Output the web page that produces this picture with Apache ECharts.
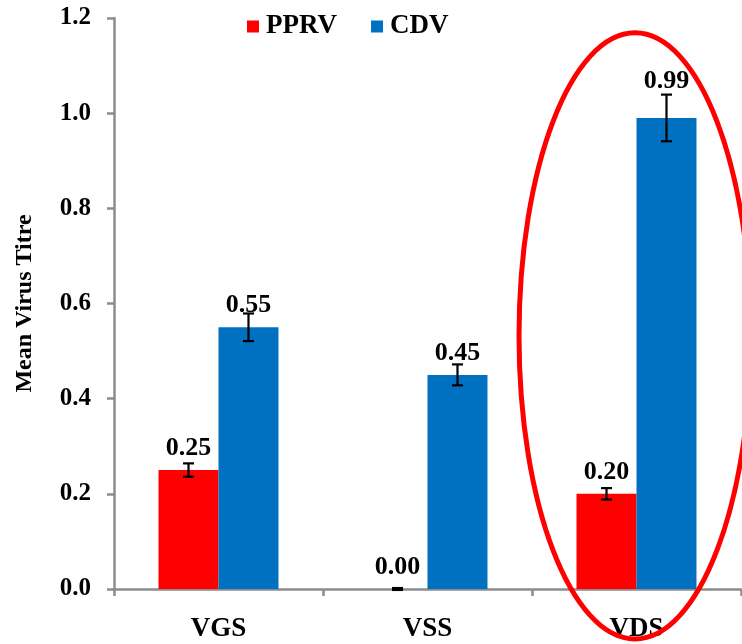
<!DOCTYPE html>
<html>
<head>
<meta charset="utf-8">
<title>Mean Virus Titre</title>
<script src="https://cdn.jsdelivr.net/npm/echarts@6/dist/echarts.min.js"></script>
<style>
  html, body { margin: 0; padding: 0; background: #ffffff; }
  #chart { width: 742px; height: 644px; }
</style>
</head>
<body>
<div id="chart"></div>
<script>
// Sample groups and series
const categories = ['VGS', 'VSS', 'VDS'];
const seriesNames = ['PPRV', 'CDV'];
const pprvValues = [0.25, 0.00, 0.20];
const cdvValues = [0.55, 0.45, 0.99];
// Standard error (half-length of each error bar)
const pprvErrors = [0.014, 0.002, 0.012];
const cdvErrors = [0.029, 0.022, 0.049];
// Y axis range
const yMin = 0;
const yMax = 1.2;
const yStep = 0.2;
// Highlighted group (circled)
const highlightGroup = 'VDS';

const SERIF = '"Liberation Serif", "Times New Roman", serif';
const AXIS_GREY = '#8c8c8c';
const CAT_GAP = 0.426; // fraction of each category band left empty

const chart = echarts.init(document.getElementById('chart'), null, { renderer: 'canvas' });

// Draws I-shaped error bars centred on each bar of one series
function errorBarRenderer(values, errors, side) {
  return function (params, api) {
    const i = params.dataIndex;
    const band = api.size([1, 0])[0];
    const offset = side * band * (1 - CAT_GAP) / 4;
    const top = api.coord([i, values[i] + errors[i]]);
    const bot = api.coord([i, values[i] - errors[i]]);
    const x = top[0] + offset;
    const cap = 5.5;
    const style = { stroke: '#000000', lineWidth: 2.2 };
    return {
      type: 'group',
      children: [
        { type: 'line', shape: { x1: x, y1: top[1], x2: x, y2: bot[1] }, style },
        { type: 'line', shape: { x1: x - cap, y1: top[1], x2: x + cap, y2: top[1] }, style },
        { type: 'line', shape: { x1: x - cap, y1: bot[1], x2: x + cap, y2: bot[1] }, style }
      ]
    };
  };
}

function barData(values) {
  return values.map(function (v, i) {
    // the tallest bar's label sits clear of its longer error bar
    const dist = (values === cdvValues && i === 2) ? 24 : 9;
    return { value: v, label: { distance: dist } };
  });
}

const labelStyle = {
  show: true,
  position: 'top',
  formatter: function (p) { return p.value.toFixed(2); },
  fontFamily: SERIF,
  fontWeight: 'bold',
  fontSize: 26,
  color: '#000000'
};

chart.setOption({
  animation: false,
  backgroundColor: '#ffffff',
  grid: { left: 114, right: 1, top: 18, bottom: 55, containLabel: false },
  legend: {
    data: seriesNames,
    top: 8,
    left: 242,
    icon: 'rect',
    itemWidth: 12,
    itemHeight: 12,
    itemGap: 34,
    textStyle: {
      fontFamily: SERIF,
      fontWeight: 'bold',
      fontSize: 27,
      color: '#000000',
      padding: [0, 0, 0, 2]
    }
  },
  xAxis: {
    type: 'category',
    data: categories,
    axisLine: { lineStyle: { color: AXIS_GREY, width: 2.5 } },
    axisTick: { show: true, inside: false, length: 7, lineStyle: { color: AXIS_GREY, width: 2.5 } },
    axisLabel: {
      margin: 27,
      fontFamily: SERIF,
      fontWeight: 'bold',
      fontSize: 27,
      color: '#000000'
    },
    splitLine: { show: false }
  },
  yAxis: {
    type: 'value',
    min: yMin,
    max: yMax,
    interval: yStep,
    name: 'Mean Virus Titre',
    nameLocation: 'middle',
    nameGap: 77,
    nameRotate: 90,
    nameTextStyle: {
      fontFamily: SERIF,
      fontWeight: 'bold',
      fontSize: 24,
      color: '#000000'
    },
    axisLine: { show: true, lineStyle: { color: AXIS_GREY, width: 2.5 } },
    axisTick: { show: true, inside: false, length: 7, lineStyle: { color: AXIS_GREY, width: 2.5 } },
    axisLabel: {
      margin: 23,
      formatter: function (v) { return v.toFixed(1); },
      fontFamily: SERIF,
      fontWeight: 'bold',
      fontSize: 25,
      color: '#000000'
    },
    splitLine: { show: false }
  },
  series: [
    {
      name: 'PPRV',
      type: 'bar',
      data: barData(pprvValues),
      itemStyle: { color: '#ff0000' },
      barGap: '0%',
      barCategoryGap: (CAT_GAP * 100) + '%',
      label: labelStyle,
      z: 2
    },
    {
      name: 'CDV',
      type: 'bar',
      data: barData(cdvValues),
      itemStyle: { color: '#0070c0' },
      barGap: '0%',
      barCategoryGap: (CAT_GAP * 100) + '%',
      label: labelStyle,
      z: 2
    },
    {
      type: 'custom',
      renderItem: errorBarRenderer(pprvValues, pprvErrors, -1),
      data: pprvValues.map(function (v, i) { return [i, v]; }),
      z: 5,
      silent: true
    },
    {
      type: 'custom',
      renderItem: errorBarRenderer(cdvValues, cdvErrors, 1),
      data: cdvValues.map(function (v, i) { return [i, v]; }),
      z: 5,
      silent: true
    }
  ]
});

// Red ellipse circling the highlighted group, placed from the axis scales
function drawHighlight() {
  const centre = chart.convertToPixel({ xAxisIndex: 0, yAxisIndex: 0 }, [highlightGroup, 0.532]);
  const bandLeft = chart.convertToPixel({ xAxisIndex: 0 }, categories[0]);
  const bandNext = chart.convertToPixel({ xAxisIndex: 0 }, categories[1]);
  const band = bandNext - bandLeft;
  const unit = chart.convertToPixel({ yAxisIndex: 0 }, 0) - chart.convertToPixel({ yAxisIndex: 0 }, 1);
  chart.setOption({
    graphic: [{
      type: 'ellipse',
      shape: { cx: centre[0] - 1.5, cy: centre[1], rx: band * 0.555, ry: unit * 0.637 },
      style: { fill: 'transparent', stroke: '#ff0000', lineWidth: 5 },
      z: 10,
      silent: true
    }]
  });
}
drawHighlight();
</script>
</body>
</html>
